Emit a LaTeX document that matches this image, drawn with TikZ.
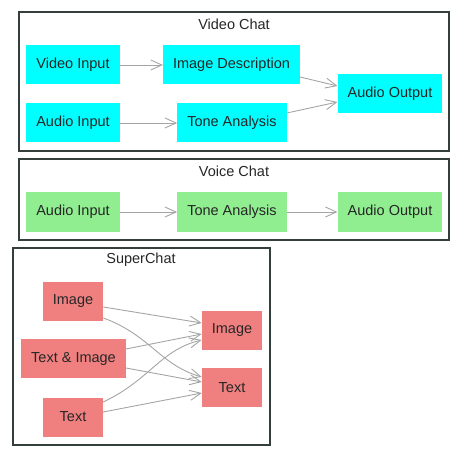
\documentclass[tikz,border=0pt]{standalone}
\usepackage{fontspec}
\setmainfont{Liberation Sans}
\usetikzlibrary{arrows.meta}
\definecolor{clusterline}{RGB}{52,62,60}
\definecolor{edgegray}{RGB}{165,165,165}
\definecolor{videofill}{RGB}{0,255,255}
\definecolor{voicefill}{RGB}{144,238,144}
\definecolor{superfill}{RGB}{240,128,128}
\begin{document}
\begin{tikzpicture}[x = 1bp,
                    y = -1bp,
                    font = \fontsize{14.5bp}{17bp}\selectfont,
                    color = {black!85}]
% style of boxes and edges
\tikzset{box/.style={rectangle,inner xsep=10bp,inner ysep=0bp,minimum width=60bp,minimum height=39bp,text=black!85},
         videobox/.style={box,fill=videofill},
         voicebox/.style={box,fill=voicefill},
         superbox/.style={box,fill=superfill},
         cluster/.style={draw=clusterline,line width=1.1bp},
         edge/.style={draw=edgegray,line width=0.9bp,-{Straight Barb[length=11bp,width=10bp]}}}
% frame
\useasboundingbox (0,0) rectangle (462,457);

%clusters
\draw[cluster] (19,12) rectangle (449,151);
\node (tvideo) at (234,24) {Video Chat};
\draw[cluster] (19,159) rectangle (449,240);
\node (tvoice) at (234,171) {Voice Chat};
\draw[cluster] (13,248) rectangle (270,445);
\node (tsuper) at (141,260) {SuperChat};

%Video Chat
\node[videobox] (vin) at (73,65) {Video Input};
\node[videobox] (vdesc) at (231.5,65) {Image Description};
\node[videobox] (vain) at (73,123) {Audio Input};
\node[videobox] (vtone) at (232,123) {Tone Analysis};
\node[videobox] (vout) at (390,94) {Audio Output};

\draw[edge] (vin) -- (vdesc);
\draw[edge] (vain) -- (vtone);
\draw[edge] ([yshift=-12bp]vdesc.east) -- ([yshift=8bp]vout.west);
\draw[edge] ([yshift=10bp]vtone.east) -- ([yshift=-8bp]vout.west);

%Voice Chat
\node[voicebox] (sain) at (73,212) {Audio Input};
\node[voicebox] (stone) at (232,212) {Tone Analysis};
\node[voicebox] (sout) at (390,212) {Audio Output};

\draw[edge] (sain) -- (stone);
\draw[edge] (stone) -- (sout);

%SuperChat
\node[superbox] (cimg) at (73,301.5) {Image};
\node[superbox] (cboth) at (73.5,358.5) {Text \& Image};
\node[superbox] (ctxt) at (73,417) {Text};
\node[superbox] (oimg) at (232,330.5) {Image};
\node[superbox] (otxt) at (232,387.5) {Text};

\draw[edge] ([yshift=-5.5bp]cimg.east) -- ([yshift=7.5bp]oimg.west);
\draw[edge] ([yshift=-16.5bp]cimg.east) .. controls (150,335) and (160,365) .. ([yshift=10.5bp]otxt.west);
\draw[edge] ([yshift=9.5bp]cboth.east) -- ([yshift=-3.5bp]oimg.west);
\draw[edge] ([yshift=-9.5bp]cboth.east) -- ([yshift=5.5bp]otxt.west);
\draw[edge] ([yshift=15bp]ctxt.east) .. controls (150,380) and (160,350) .. ([yshift=-9.5bp]oimg.west);
\draw[edge] ([yshift=5bp]ctxt.east) -- ([yshift=-5.5bp]otxt.west);
\end{tikzpicture}
\end{document}
